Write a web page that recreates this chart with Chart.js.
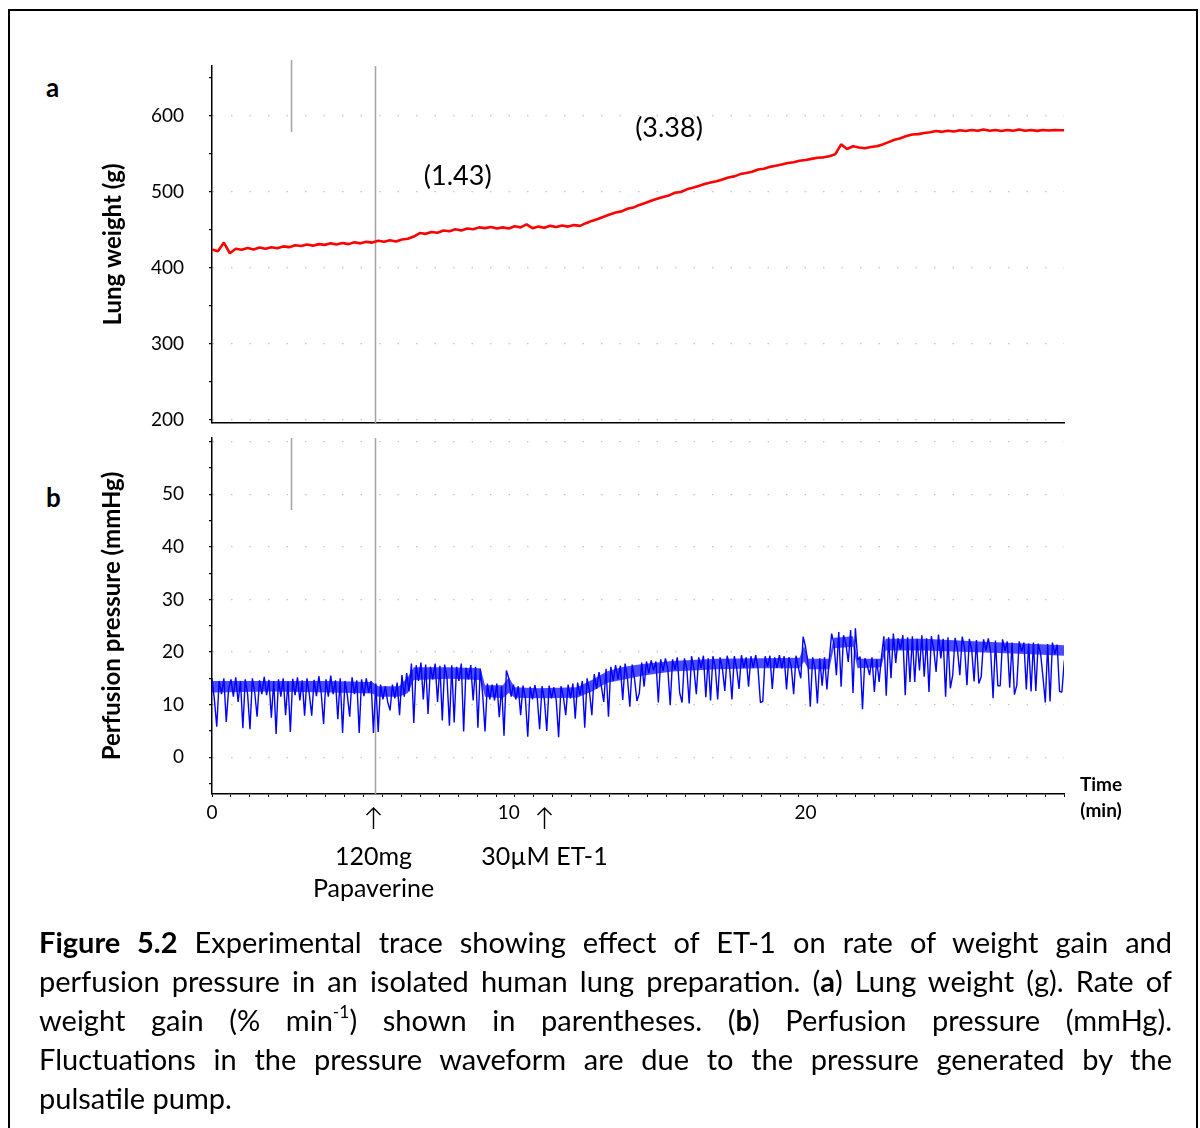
<!DOCTYPE html>
<html>
<head>
<meta charset="utf-8">
<title>Figure 5.2</title>
<script src="https://cdn.jsdelivr.net/npm/chart.js@4.4.1/dist/chart.umd.min.js"></script>
<style>
  html, body { margin: 0; padding: 0; background: #fff; }
  body { width: 1200px; height: 1128px; position: relative; overflow: hidden; font-family: Lato, "Open Sans", sans-serif; color: #000; }
  #frame { position: absolute; left: 8px; top: 9px; width: 1190px; height: 1160px; border: 2px solid #000; box-sizing: border-box; }
  canvas { position: absolute; left: 0; }
  #chartA { top: 0; width: 1200px; height: 430px; }
  #chartB { top: 430px; width: 1200px; height: 500px; }
  .panel { position: absolute; font-size: 26px; font-weight: bold; line-height: 30px; }
  #caption { position: absolute; left: 39px; top: 922px; width: 1133px; font-size: 29px; line-height: 39px; }
  #caption .ln { text-align: justify; text-align-last: justify; }
  #caption .last { text-align: left; text-align-last: left; }
  sup { font-size: 0.6em; line-height: 0; vertical-align: 0.75em; }
</style>
</head>
<body>
<div id="frame"></div>
<div class="panel" style="left:46px; top:72px;">a</div>
<div class="panel" style="left:46px; top:482px;">b</div>
<canvas id="chartA" width="1200" height="430"></canvas>
<canvas id="chartB" width="1200" height="500"></canvas>
<div id="caption">
  <div class="ln"><b>Figure 5.2</b> Experimental trace showing effect of ET-1 on rate of weight gain and</div>
  <div class="ln">perfusion pressure in an isolated human lung preparation. (<b>a</b>) Lung weight (g). Rate of</div>
  <div class="ln">weight gain (% min<sup>-1</sup>) shown in parentheses. (<b>b</b>) Perfusion pressure (mmHg).</div>
  <div class="ln">Fluctuations in the pressure waveform are due to the pressure generated by the</div>
  <div class="ln last">pulsatile pump.</div>
</div>
<script>
// time axis (min)
var xMax = 28.71;
var minorTickStep = 0.638;
var timeLabels = [0, 10, 20];

// events (min)
var markTime = 2.67;
var papaverineTime = 5.5;
var et1Time = 11.25;
var drugLabels = [["120mg", "Papaverine"], ["30\u00b5M ET-1"]];

// rate of weight gain (% min-1)
var rateLabels = ["(1.43)", "(3.38)"];

// lung weight (g), one reading every 0.2 min
var weightStep = 0.2;
var weight = [
  424, 421.5, 433, 419, 425, 423.5, 426, 424, 426.5, 425,
  427, 425.5, 428, 427, 429.5, 428.5, 430.5, 429, 431, 430,
  432, 430.5, 432.5, 431, 433.5, 432, 434, 433, 435.5, 434,
  436, 434.5, 437, 438, 441, 445.5, 444.5, 447, 446, 449,
  448, 450.5, 449, 451.5, 450.5, 453, 452, 453.5, 451.5, 453,
  451.5, 454.5, 453, 457, 452, 454, 452.5, 455, 453.5, 455.5,
  454, 456, 455, 458.5, 461.5, 464, 467, 470, 472.5, 474,
  477.5, 479, 482.5, 485, 488, 490.5, 493, 495, 498.5, 499.5,
  503, 505, 507.5, 510, 512, 513.5, 516, 518.5, 520, 523,
  524.5, 526, 529, 530, 532.5, 534, 535.5, 537.5, 538.5, 540.5,
  541.5, 543, 544.5, 545, 546.5, 549, 562, 556, 559.5, 558,
  557, 558.5, 559.5, 562, 565, 568, 570, 573, 575, 575.5,
  577, 578, 579.5, 578.5, 580, 579, 580.5, 579.5, 581, 580,
  581.5, 580, 581, 579.5, 581, 580, 581.5, 580, 581, 579.8,
  581, 580.2, 581, 580.5, 580.5
];

// perfusion pressure (mmHg), one reading every 0.08 min
var pressureStep = 0.08;
var pressure = [
  15, 11, 5.8, 14.5, 12, 15, 6.7, 13, 14.8, 11.5, 15.2, 10.5, 14.5, 5.5, 14.8, 12, 5.3, 15, 12.3, 7.7, 14.6, 12, 15.3, 11.8, 14.7,
  7.5, 14.5, 4.4, 14.8, 11.5, 15, 8, 14.4, 4.8, 14.9, 11.8, 15.2, 10.8, 14.6, 7.9, 15, 12, 7.9, 14.7, 11.6, 15.4, 12.2, 6.3, 14.8, 11.5,
  15.5, 12, 14.6, 7.2, 15, 4.6, 14.5, 11.8, 7.7, 15.2, 12, 14.6, 4.6, 14.8, 11.6, 15, 12.3, 14.5, 4.6, 14, 4.8, 13.8, 11, 13.5, 10.5,
  8.9, 13.8, 11.2, 14.2, 8, 15.6, 11.5, 16, 12.5, 17.8, 6.5, 17.5, 14.5, 18, 11, 17.6, 8.2, 17.2, 14.8, 17.8, 10.5, 17.4, 7, 17.6, 15,
  6, 17.5, 6.6, 17.2, 14.5, 17.8, 4.9, 17, 14.8, 17.5, 10.8, 17.2, 5.6, 16.8, 12, 4.9, 14, 11, 13.8, 10.8, 14, 7.6, 13.5, 4.1, 16.5,
  15, 11.5, 13.8, 11, 13.5, 8, 13.6, 11.2, 3.9, 13.4, 11, 13.7, 11.3, 5.3, 13.5, 11, 5, 13.6, 11.2, 13.3, 10.8, 3.8, 13.5, 11.5, 8,
  13.8, 11.2, 14, 7.3, 14.2, 11.8, 14.5, 5.6, 15, 12.5, 8, 15.8, 13, 16.2, 13.5, 10.5, 16.8, 7.7, 17.2, 14.5, 17.5, 14.8, 17.4, 10.9, 17.8,
  15, 9.6, 17.6, 14.8, 10.7, 12.2, 18, 13.4, 18.2, 16, 18.4, 16.5, 18.2, 10.4, 18.6, 16.4, 18.8, 16.8, 9.9, 18.6, 16.6, 19, 12.2, 10.4, 18.8,
  16.8, 10.2, 19.2, 16.8, 12, 19, 17, 19.3, 11.4, 18.8, 10.8, 19.2, 17, 11, 19, 16.8, 12.6, 19.3, 17.2, 11, 19.2, 16.9, 13, 19.4, 17,
  19, 13.4, 19.2, 17, 19.4, 16.8, 10.4, 10.6, 19.2, 17.2, 19.3, 13, 19, 17, 19.4, 16.9, 19.2, 12.9, 19, 17.2, 12, 19.3, 17, 15, 22.9,
  21, 18, 9.6, 19, 17, 10.2, 18.8, 13.6, 19, 12.9, 18.6, 23.5, 21.5, 15.6, 23.8, 13.4, 23.2, 21.6, 18.1, 24.2, 12.2, 24.5, 18.5, 19.1, 9.1,
  18.8, 17.5, 15.6, 19, 12.4, 18.6, 14.3, 19.1, 23, 11.7, 22.8, 15, 23.5, 17.9, 22.6, 20.5, 23.2, 11.8, 22.8, 14.3, 23, 14.3, 22.5, 16.5, 23.2,
  15.3, 22.6, 12.4, 23, 20.6, 16.2, 23.3, 18.8, 22.5, 11.5, 22.8, 13.1, 15.6, 22.7, 20.5, 15.6, 22.9, 20.8, 13.7, 22.5, 20.4, 14.4, 22.3, 14, 15.3,
  22.4, 20.3, 22.6, 20, 11.2, 22.2, 13.6, 13.6, 22.4, 20.2, 22, 13.2, 21.8, 11.9, 13.7, 22, 20.1, 21.8, 12.9, 21.6, 12.5, 21.8, 12.6, 21.6, 19.8,
  15.3, 10.4, 21.5, 10.6, 21.8, 19.6, 21.4, 12.5, 12.4, 18.4
];

// dense core of the pressure waveform (mmHg)
var bandTimes = [0, 2, 4, 5.4, 5.6, 6.3, 6.6, 6.8, 8, 9.05, 9.2, 9.8, 10, 10.2, 11, 12.3, 12.8, 13.3, 13.8, 14.5, 15.5, 17, 18.5, 19.8, 19.95, 20.1, 20.8, 20.95, 21.6, 21.75, 22.55, 22.7, 24, 25.5, 27, 28.71];
var bandTop = [14.5, 14.5, 14.5, 14.3, 13.5, 13.5, 15.2, 17.1, 17.1, 16.9, 13.7, 13.7, 15.2, 13.3, 13.1, 13.3, 14.7, 16.3, 17.1, 17.7, 18.3, 18.7, 18.8, 18.9, 21.2, 18.7, 18.7, 22.7, 23, 18.7, 18.7, 22.5, 22.5, 22.1, 21.7, 21.3];
var bandBottom = [12.3, 12.5, 12.3, 12.1, 11.5, 11.5, 12.2, 14.7, 14.9, 14.7, 11.5, 11.2, 12.2, 11.3, 11.2, 11.3, 12.5, 14.1, 14.7, 15.5, 16.3, 16.7, 16.9, 16.9, 18.2, 16.7, 16.7, 20.7, 21, 16.9, 17.1, 20.3, 20.3, 20, 19.7, 19.3];

// axis ticks
var weightTicks = [200, 250, 300, 350, 400, 450, 500, 550, 600, 650];
var pressureTicks = [-5, 0, 5, 10, 15, 20, 25, 30, 35, 40, 45, 50, 55, 60];

Chart.defaults.font.family = "Lato";
Chart.defaults.color = "#000";

var timeTicks = [];
for (var k = 0; k * minorTickStep <= xMax + 0.001; k++) {
  timeTicks.push(k * minorTickStep);
}
timeTicks = timeTicks.concat([10, 20]).sort(function (a, b) { return a - b; });

function toPoints(values, step) {
  return values.map(function (v, i) { return { x: i * step, y: v }; });
}

function pairUp(times, values) {
  return times.map(function (t, i) { return { x: t, y: values[i] }; });
}

// no extra room for the end labels, the frame is fixed
function noPad(scale) {
  scale.paddingTop = 0;
  scale.paddingBottom = 0;
  scale.paddingLeft = 0;
  scale.paddingRight = 0;
}

function eventLines(name, markTop, markBottom) {
  return {
    id: "events" + name,
    beforeDatasetsDraw: function (chart) {
      var ctx = chart.ctx;
      var area = chart.chartArea;
      var x = chart.scales.x;
      var px = Math.round(x.getPixelForValue(papaverineTime)) + 0.5;
      var mx = Math.round(x.getPixelForValue(markTime)) + 0.5;
      ctx.save();
      ctx.strokeStyle = "#a3a3a3";
      ctx.lineWidth = 1.5;
      ctx.beginPath();
      ctx.moveTo(px, area.top);
      ctx.lineTo(px, area.bottom);
      ctx.moveTo(mx, area.top + markTop);
      ctx.lineTo(mx, area.top + markBottom);
      ctx.stroke();
      ctx.restore();
    }
  };
}

var rateNotes = {
  id: "rateNotes",
  afterDatasetsDraw: function (chart) {
    var ctx = chart.ctx;
    var x = chart.scales.x, y = chart.scales.y;
    var spots = [[8.28, 520], [15.4, 583]];
    ctx.save();
    ctx.fillStyle = "#000";
    ctx.font = "27px Lato";
    ctx.textAlign = "center";
    ctx.textBaseline = "middle";
    rateLabels.forEach(function (txt, i) {
      ctx.fillText(txt, x.getPixelForValue(spots[i][0]), y.getPixelForValue(spots[i][1]));
    });
    ctx.restore();
  }
};

var belowAxis = {
  id: "belowAxis",
  afterDraw: function (chart) {
    var ctx = chart.ctx;
    var a = chart.chartArea;
    var x = chart.scales.x;
    var times = [papaverineTime, et1Time];
    ctx.save();
    ctx.strokeStyle = "#000";
    ctx.lineWidth = 1.4;
    ctx.fillStyle = "#000";
    ctx.textAlign = "center";
    ctx.textBaseline = "middle";
    ctx.font = "25px Lato";
    times.forEach(function (t, i) {
      var px = Math.round(x.getPixelForValue(t)) - 1.5;
      // arrow
      ctx.beginPath();
      ctx.moveTo(px, a.bottom + 35);
      ctx.lineTo(px, a.bottom + 14);
      ctx.moveTo(px - 7, a.bottom + 21);
      ctx.lineTo(px, a.bottom + 14);
      ctx.lineTo(px + 7, a.bottom + 21);
      ctx.stroke();
      drugLabels[i].forEach(function (line, j) {
        ctx.fillText(line, px, a.bottom + 63 + j * 32);
      });
    });
    ctx.font = "bold 19px Lato";
    ctx.fillText("Time", a.right + 37, a.bottom - 9);
    ctx.fillText("(min)", a.right + 37, a.bottom + 17);
    ctx.restore();
  }
};

var axisBorder = { display: true, color: "#000", width: 1.5 };

// a: lung weight
new Chart(document.getElementById("chartA"), {
  type: "line",
  data: {
    datasets: [{
      data: toPoints(weight, weightStep),
      borderColor: "#ff0000",
      borderWidth: 2.6,
      borderJoinStyle: "bevel",
      pointRadius: 0,
      tension: 0
    }]
  },
  options: {
    responsive: false,
    animation: false,
    layout: { padding: { top: 66, right: 136, bottom: 7, left: 0 } },
    plugins: { legend: { display: false }, tooltip: { enabled: false } },
    scales: {
      x: {
        type: "linear", min: 0, max: xMax,
        ticks: { display: false },
        grid: { display: false, drawTicks: false },
        border: axisBorder,
        afterFit: function (s) { s.height = 0; noPad(s); }
      },
      y: {
        min: 196, max: 665,
        afterBuildTicks: function (s) { s.ticks = weightTicks.map(function (v) { return { value: v }; }); },
        ticks: {
          padding: 25,
          font: { size: 19 },
          callback: function (v) { return v % 100 === 0 ? v : ""; }
        },
        grid: {
          color: function (c) { return c.tick && c.tick.value % 100 === 0 ? "#c4c4c4" : "rgba(0,0,0,0)"; },
          lineWidth: 1.2,
          tickColor: "#000",
          tickLength: 3
        },
        border: { display: true, color: "#000", width: 1.5, dash: [1.5, 17] },
        title: { display: true, text: "Lung weight (g)", font: { size: 24, weight: "bold" }, padding: { top: 99, bottom: 0 } },
        afterFit: function (s) { s.width = 212; noPad(s); }
      }
    }
  },
  plugins: [eventLines("A", -6, 66), rateNotes]
});

// b: perfusion pressure
new Chart(document.getElementById("chartB"), {
  type: "line",
  data: {
    datasets: [{
      data: pairUp(bandTimes, bandBottom),
      borderWidth: 0,
      pointRadius: 0,
      fill: false,
      tension: 0
    }, {
      data: pairUp(bandTimes, bandTop),
      borderWidth: 0,
      pointRadius: 0,
      backgroundColor: "rgba(0, 0, 255, 0.7)",
      fill: "-1",
      tension: 0
    }, {
      data: toPoints(pressure, pressureStep),
      borderColor: "#0000ff",
      borderWidth: 1.4,
      borderJoinStyle: "bevel",
      pointRadius: 0,
      fill: false,
      tension: 0
    }]
  },
  options: {
    responsive: false,
    animation: false,
    layout: { padding: { top: 8, right: 136, bottom: 96, left: 0 } },
    plugins: { legend: { display: false }, tooltip: { enabled: false } },
    scales: {
      x: {
        type: "linear", min: 0, max: xMax,
        afterBuildTicks: function (s) { s.ticks = timeTicks.map(function (v) { return { value: v }; }); },
        ticks: {
          autoSkip: false,
          maxRotation: 0,
          padding: 4,
          font: { size: 19 },
          callback: function (v) { return timeLabels.indexOf(v) >= 0 ? v : ""; }
        },
        grid: {
          drawOnChartArea: false,
          tickLength: 3,
          tickColor: function (c) { return c.tick && (c.tick.value === 10 || c.tick.value === 20) ? "rgba(0,0,0,0)" : "#000"; }
        },
        border: axisBorder,
        afterFit: function (s) { s.height = 40; noPad(s); }
      },
      y: {
        min: -7, max: 60.7,
        afterBuildTicks: function (s) { s.ticks = pressureTicks.map(function (v) { return { value: v }; }); },
        ticks: {
          padding: 25,
          font: { size: 19 },
          callback: function (v) { return v % 10 === 0 && v >= 0 && v <= 50 ? v : ""; }
        },
        grid: {
          color: function (c) { return c.tick && c.tick.value % 10 === 0 && c.tick.value >= 0 ? "#c4c4c4" : "rgba(0,0,0,0)"; },
          lineWidth: 1.2,
          tickColor: "#000",
          tickLength: 3
        },
        border: { display: true, color: "#000", width: 1.5, dash: [1.5, 17] },
        title: { display: true, text: "Perfusion pressure (mmHg)", font: { size: 24, weight: "bold" }, padding: { top: 98, bottom: 0 } },
        afterFit: function (s) { s.width = 212; noPad(s); }
      }
    }
  },
  plugins: [eventLines("B", 0, 72), belowAxis]
});
</script>
</body>
</html>
